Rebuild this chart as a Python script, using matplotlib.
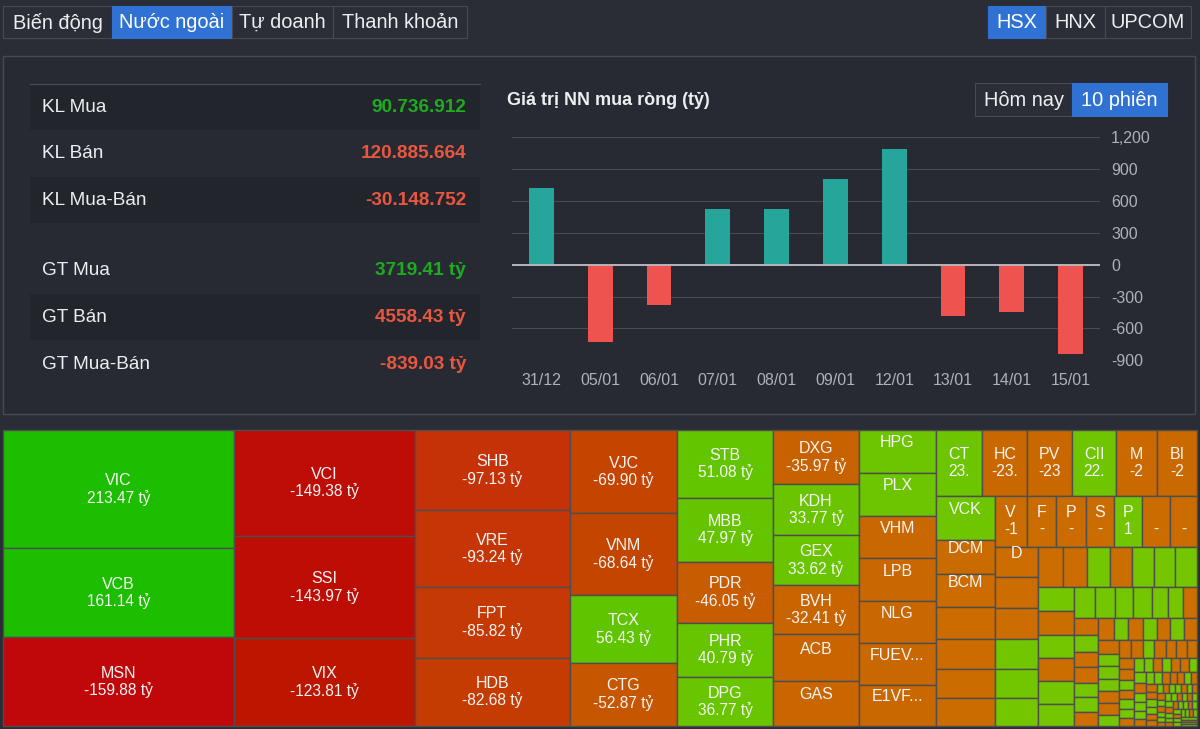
#!/usr/bin/env python3
"""
foreign_flow_board.py

Foreign trading panel: summary table, 10 session net value bars and a
treemap of net value per ticker.
"""

import matplotlib
matplotlib.use("Agg")
import matplotlib.pyplot as plt
from matplotlib.patches import Rectangle
import numpy as np

# --- Data --------------------------------------------------------------------

SUMMARY_LABELS = ["KL Mua", "KL Bán", "KL Mua-Bán", "GT Mua", "GT Bán", "GT Mua-Bán"]
SUMMARY_VALUES = ["90.736.912", "120.885.664", "-30.148.752",
                  "3719.41 tỷ", "4558.43 tỷ", "-839.03 tỷ"]

SESSIONS = ["31/12", "05/01", "06/01", "07/01", "08/01",
            "09/01", "12/01", "13/01", "14/01", "15/01"]
NET_VALUE = [722, -732, -383, 525, 525, 807, 1087, -484, -446, -839]
NET_TICKS = [-900, -600, -300, 0, 300, 600, 900, 1200]

# treemap columns, biggest first
COL1_NAMES = ["VIC", "VCB", "MSN"]
COL1_VALUES = [213.47, 161.14, -159.88]
COL2_NAMES = ["VCI", "SSI", "VIX"]
COL2_VALUES = [-149.38, -143.97, -123.81]
COL3_NAMES = ["SHB", "VRE", "FPT", "HDB"]
COL3_VALUES = [-97.13, -93.24, -85.82, -82.68]
COL4_NAMES = ["VJC", "VNM", "TCX", "CTG"]
COL4_VALUES = [-69.90, -68.64, 56.43, -52.87]
COL5_NAMES = ["STB", "MBB", "PDR", "PHR", "DPG"]
COL5_VALUES = [51.08, 47.97, -46.05, 40.79, 36.77]
COL6_NAMES = ["DXG", "KDH", "GEX", "BVH", "ACB", "GAS"]
COL6_VALUES = [-35.97, 33.77, 33.62, -32.41, -31.0, -30.0]
COL6_CAPTIONS = ["-35.97 tỷ", "33.77 tỷ", "33.62 tỷ", "-32.41 tỷ", "", ""]
COL7_NAMES = ["HPG", "PLX", "VHM", "LPB", "NLG", "FUEV...", "E1VF..."]
COL7_VALUES = [26.0, 26.0, -25.9, -25.7, -25.6, -25.3, -25.0]

ROW8_NAMES = ["CT", "HC", "PV", "CII", "M", "BI"]
ROW8_CAPTIONS = ["23.", "-23.", "-23", "22.", "-2", "-2"]
ROW8_VALUES = [23.6, -23.4, -23.0, 22.6, -21.0, -20.7]
COL9_NAMES = ["VCK", "DCM", "BCM", "", "", "", ""]
COL9_VALUES = [20.0, -15.9, -15.0, -14.5, -14.1, -13.2, -12.7]
ROW10_NAMES = ["V", "F", "P", "S", "P", "", ""]
ROW10_CAPTIONS = ["-1", "-", "-", "-", "1", "-", "-"]
ROW10_VALUES = [-12.5, -11.7, -11.6, -11.4, 11.0, -10.9, -10.7]
COL11_NAMES = ["D", "", "", "", "", ""]
COL11_VALUES = [-10.4, -10.4, -10.3, 10.3, 9.8, 9.4]

# the unlabelled tail, alternating rows and columns
ROW12_VALUES = [-8.0, -7.6, 7.3, -7.0, 6.9, 6.9, 6.9]
COL13_VALUES = [6.7, -6.6, 6.6, -6.5, 6.4, 6.2]
ROW14_VALUES = [5.0, 4.6, 4.5, 4.4, 3.8, 3.5, -3.4]
COL15_VALUES = [-3.3, 3.1, -3.0, -2.9, 2.8, 2.8, -2.6]
ROW16_VALUES = [-2.8, 2.5, -2.5, 2.5, -2.4, 2.4, -2.3]
COL17_VALUES = [-2.1, 2.0, 2.0, 1.95, -1.9, -1.85, 1.7]
ROW18_VALUES = [-1.7, -1.65, 1.6, -1.55, -1.5, -1.45, -1.4]
COL19_VALUES = [-1.3, -1.25, 1.2, -1.15, 1.1, 1.05, -1.0]
ROW20_VALUES = [1.1, 1.07, -1.05, 1.02, -1.0, -0.95, 0.93]
COL21_VALUES = [1.0, -0.95, 0.9, 0.85, 0.8, -0.7]
ROW22_VALUES = [0.72, 0.7, -0.68, -0.65, -0.62, 0.6, -0.58]
COL23_VALUES = [-0.65, -0.62, 0.6, 0.58, -0.52, -0.48]
ROW24_VALUES = [0.46, -0.44, 0.43, 0.42, -0.4, 0.38, -0.37]
COL25_VALUES = [-0.45, 0.42, -0.4, 0.35, 0.3, -0.28]
ROW26_VALUES = [0.38, 0.36, -0.35, 0.34, -0.33, 0.31]
COL27_VALUES = [0.36, -0.32, 0.3, 0.27, -0.23]
ROW28_VALUES = [-0.3, 0.28, 0.28, -0.27, 0.27]
COL29_VALUES = [0.3, -0.28, 0.26, 0.24]
ROW30_VALUES = [0.28, 0.26, -0.26, 0.24]
REST31_VALUES = [0.3, -0.28, 0.26, 0.25]

# --- Style -------------------------------------------------------------------

PAGE = "#2a2d35"
PANEL = "#272a32"
ROW_DARK = "#22252c"
BORDER = "#474a52"
BLUE = "#2f72d4"
TEXT = "#eceef1"
MUTED = "#aeb1b6"
UP_TEXT = "#1fab1f"
DOWN_TEXT = "#e8573f"
BAR_UP = "#26a69a"
BAR_DOWN = "#ef5350"

plt.rcParams["font.family"] = ["Liberation Sans", "DejaVu Sans"]

PX = 0.72  # points per pixel at dpi 100


def cell_color(value):
    """Colour scale of the treemap, stronger with bigger net value."""
    size = abs(value)
    if value >= 0:
        stops = [0, 60, 150]
        r = np.interp(size, stops, [0x76, 0x60, 0x1d])
        g = np.interp(size, stops, [0xc6, 0xc4, 0xbd])
        b = 0
    else:
        stops = [0, 30, 50, 70, 100, 125, 160]
        r = np.interp(size, stops, [0xcc, 0xc9, 0xc6, 0xc4, 0xc6, 0xbb, 0xc0])
        g = np.interp(size, stops, [0x70, 0x66, 0x5a, 0x44, 0x30, 0x14, 0x08])
        b = np.interp(size, stops, [0, 0, 0, 0, 8, 0, 10])
    return (r / 255, g / 255, b / 255)


def layout_groups(groups, x, y, w, h):
    """Slice the rectangle group by group, sizes follow the values."""
    total = sum(abs(v) for g in groups for v in g["values"])
    cells = []
    for group in groups:
        values = group["values"]
        names = group.get("names", [""] * len(values))
        captions = group.get("captions", [""] * len(values))
        share = sum(abs(v) for v in values) / total
        if group["kind"] == "col":
            gw = w * share
            cy = y
            for v, n, c in zip(values, names, captions):
                ch = h * abs(v) / sum(abs(t) for t in values)
                cells.append((x, cy, gw, ch, v, n, c))
                cy += ch
            x += gw
            w -= gw
        else:
            gh = h * share
            cx = x
            for v, n, c in zip(values, names, captions):
                cw = w * abs(v) / sum(abs(t) for t in values)
                cells.append((cx, y, cw, gh, v, n, c))
                cx += cw
            y += gh
            h -= gh
        total -= sum(abs(v) for v in values)
    return cells


def caption_list(values):
    return [f"{v:.2f} tỷ" for v in values]


def treemap_groups():
    return [
        {"kind": "col", "names": COL1_NAMES, "values": COL1_VALUES, "captions": caption_list(COL1_VALUES)},
        {"kind": "col", "names": COL2_NAMES, "values": COL2_VALUES, "captions": caption_list(COL2_VALUES)},
        {"kind": "col", "names": COL3_NAMES, "values": COL3_VALUES, "captions": caption_list(COL3_VALUES)},
        {"kind": "col", "names": COL4_NAMES, "values": COL4_VALUES, "captions": caption_list(COL4_VALUES)},
        {"kind": "col", "names": COL5_NAMES, "values": COL5_VALUES, "captions": caption_list(COL5_VALUES)},
        {"kind": "col", "names": COL6_NAMES, "values": COL6_VALUES, "captions": COL6_CAPTIONS},
        {"kind": "col", "names": COL7_NAMES, "values": COL7_VALUES},
        {"kind": "row", "names": ROW8_NAMES, "values": ROW8_VALUES, "captions": ROW8_CAPTIONS},
        {"kind": "col", "names": COL9_NAMES, "values": COL9_VALUES},
        {"kind": "row", "names": ROW10_NAMES, "values": ROW10_VALUES, "captions": ROW10_CAPTIONS},
        {"kind": "col", "names": COL11_NAMES, "values": COL11_VALUES},
        {"kind": "row", "values": ROW12_VALUES},
        {"kind": "col", "values": COL13_VALUES},
        {"kind": "row", "values": ROW14_VALUES},
        {"kind": "col", "values": COL15_VALUES},
        {"kind": "row", "values": ROW16_VALUES},
        {"kind": "col", "values": COL17_VALUES},
        {"kind": "row", "values": ROW18_VALUES},
        {"kind": "col", "values": COL19_VALUES},
        {"kind": "row", "values": ROW20_VALUES},
        {"kind": "col", "values": COL21_VALUES},
        {"kind": "row", "values": ROW22_VALUES},
        {"kind": "col", "values": COL23_VALUES},
        {"kind": "row", "values": ROW24_VALUES},
        {"kind": "col", "values": COL25_VALUES},
        {"kind": "row", "values": ROW26_VALUES},
        {"kind": "col", "values": COL27_VALUES},
        {"kind": "row", "values": ROW28_VALUES},
        {"kind": "col", "values": COL29_VALUES},
        {"kind": "row", "values": ROW30_VALUES},
        {"kind": "col", "values": REST31_VALUES},
    ]


# --- Drawing -----------------------------------------------------------------

def draw_button(ax, x0, x1, y0, y1, label, active=False, size=20):
    face = BLUE if active else "#2b2e36"
    ax.add_patch(Rectangle((x0, y0), x1 - x0, y1 - y0, facecolor=face,
                           edgecolor=BLUE if active else BORDER, linewidth=0.8))
    ax.text((x0 + x1) / 2, (y0 + y1) / 2 + 0.5, label, color="white" if active else TEXT,
            fontsize=size * PX, ha="center", va="center")


def draw_chrome(ax):
    tabs = [(3, 112, "Biến động", False), (112, 232, "Nước ngoài", True),
            (232, 333, "Tự doanh", False), (333, 467, "Thanh khoản", False)]
    for x0, x1, label, active in tabs:
        draw_button(ax, x0, x1, 6, 38, label, active)
    floors = [(988, 1046, "HSX", True), (1046, 1105, "HNX", False), (1105, 1191, "UPCOM", False)]
    for x0, x1, label, active in floors:
        draw_button(ax, x0, x1, 6, 38, label, active)

    ax.add_patch(Rectangle((3, 56), 1192, 358, facecolor=PANEL, edgecolor=BORDER, linewidth=1.0))
    draw_button(ax, 975, 1072, 83, 116, "Hôm nay", False)
    draw_button(ax, 1072, 1167, 83, 116, "10 phiên", True)
    ax.text(507, 100, "Giá trị NN mua ròng (tỷ)", color=TEXT, fontsize=18 * PX,
            fontweight="bold", ha="left", va="center")


def draw_summary(ax):
    centers = [107, 153, 200, 270, 317, 364]
    ax.plot([30, 480], [83.5, 83.5], color=BORDER, linewidth=0.9)
    for i, (label, value, cy) in enumerate(zip(SUMMARY_LABELS, SUMMARY_VALUES, centers)):
        if i % 2 == 0:
            ax.add_patch(Rectangle((30, cy - 23), 450, 46, facecolor=ROW_DARK, edgecolor="none"))
        ax.text(42, cy, label, color=TEXT, fontsize=19 * PX, ha="left", va="center")
        color = UP_TEXT if i in (0, 3) else DOWN_TEXT
        ax.text(466, cy, value, color=color, fontsize=19 * PX, fontweight="bold",
                ha="right", va="center")


def draw_bars(fig):
    left, right, top, bottom = 512, 1100, 137.3, 360.3
    ax = fig.add_axes([left / 1200, 1 - bottom / 729, (right - left) / 1200, (bottom - top) / 729])
    ax.patch.set_alpha(0)
    pos = np.arange(len(SESSIONS))
    colors = [BAR_UP if v >= 0 else BAR_DOWN for v in NET_VALUE]
    ax.bar(pos, NET_VALUE, width=0.425, color=colors, zorder=3)
    ax.set_xlim(-0.5, len(SESSIONS) - 0.5)
    ax.set_ylim(-900, 1200)
    ax.set_yticks(NET_TICKS)
    ax.set_yticklabels([f"{t:,}" for t in NET_TICKS])
    ax.set_xticks(pos)
    ax.set_xticklabels(SESSIONS)
    ax.yaxis.tick_right()
    ax.tick_params(axis="both", length=0, colors=MUTED, labelsize=16 * PX)
    ax.tick_params(axis="y", pad=8)
    ax.tick_params(axis="x", pad=9)
    for label in ax.get_yticklabels():
        label.set_ha("left")
    ax.grid(axis="y", color="#484b53", linewidth=0.8, zorder=0)
    ax.axhline(0, color="#b4b6bb", linewidth=1.4, zorder=4)
    for spine in ax.spines.values():
        spine.set_visible(False)


def draw_treemap(ax):
    ax.add_patch(Rectangle((3, 430), 1194, 296, facecolor="#4c4c4c", edgecolor="none"))
    for x, y, w, h, value, name, caption in layout_groups(treemap_groups(), 3, 430, 1194, 296):
        ax.add_patch(Rectangle((x, y), w, h, facecolor=cell_color(value),
                               edgecolor="#4e4e4e", linewidth=1.0))
        cx = x + w / 2
        cy = y + h / 2
        if name:
            ax.text(cx, cy - 8.5, name, color="#f4f4f4", fontsize=16 * PX, ha="center", va="center")
        if caption:
            ax.text(cx, cy + 8.5, caption, color="#f4f4f4", fontsize=15.5 * PX, ha="center", va="center")


def main():
    fig = plt.figure(figsize=(12, 7.29), dpi=100, facecolor=PAGE)
    ax = fig.add_axes([0, 0, 1, 1])
    ax.set_xlim(0, 1200)
    ax.set_ylim(729, 0)
    ax.axis("off")

    draw_chrome(ax)
    draw_summary(ax)
    draw_treemap(ax)
    draw_bars(fig)

    fig.savefig("out.png", dpi=100, facecolor=PAGE)
    plt.close(fig)


if __name__ == "__main__":
    main()
